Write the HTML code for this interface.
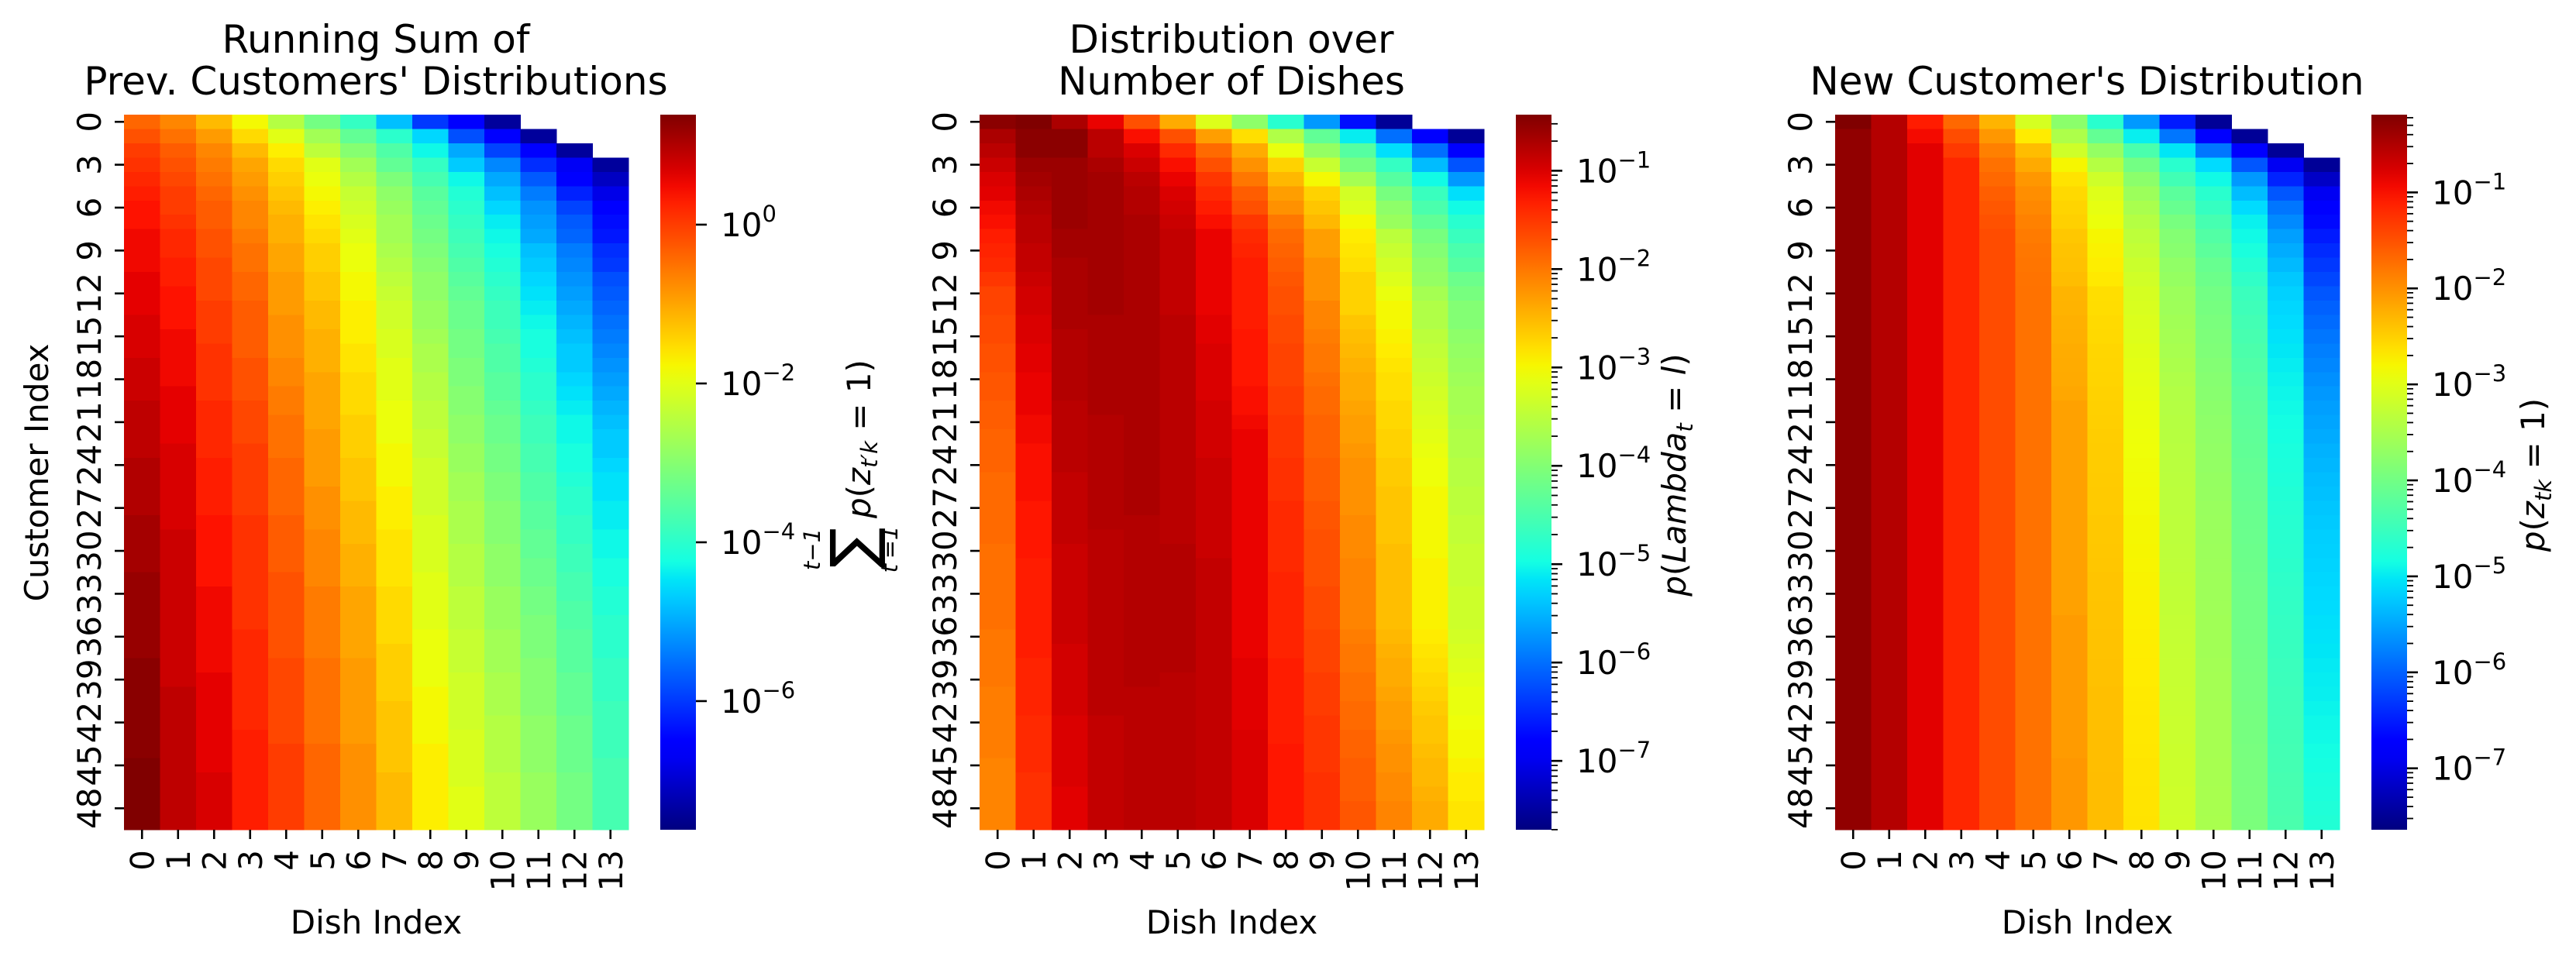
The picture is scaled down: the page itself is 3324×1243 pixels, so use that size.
<!DOCTYPE html>
<html><head><meta charset="utf-8"><style>
html,body{margin:0;padding:0;background:#fff}
svg{display:block;font-family:"DejaVu Sans","Liberation Sans",sans-serif}
</style></head><body>
<svg id="fig" width="3324" height="1243" viewBox="0 0 3324 1243" xmlns="http://www.w3.org/2000/svg">
<defs id="defs"></defs>
<g id="root"></g>
</svg>
<script>
const dishes=[0,1,2,3,4,5,6,7,8,9,10,11,12,13];
const customerTicks=[0,3,6,9,12,15,18,21,24,27,30,33,36,39,42,45,48];
const nCustomers=50;
const p1Log=[
[-0.4,-0.7,-1.2,-1.8,-2.5,-3.2,-3.9,-4.8,-6.0,-6.6,-7.4,null,null,null],
[-0.2,-0.5,-0.9,-1.5,-2.0,-2.7,-3.4,-4.0,-4.6,-5.8,-6.6,-7.4,null,null],
[0.0,-0.3,-0.7,-1.2,-1.7,-2.4,-3.0,-3.6,-4.3,-5.0,-5.9,-6.6,-7.4,null],
[0.1,-0.2,-0.6,-1.0,-1.5,-2.0,-2.7,-3.4,-3.9,-4.7,-5.3,-6.1,-6.7,-7.4],
[0.2,-0.1,-0.5,-0.9,-1.4,-1.9,-2.5,-3.1,-3.7,-4.3,-5.0,-5.7,-6.5,-7.1],
[0.3,0.0,-0.4,-0.8,-1.3,-1.8,-2.3,-2.9,-3.5,-4.1,-4.8,-5.4,-6.2,-6.8],
[0.4,0.0,-0.3,-0.7,-1.2,-1.7,-2.2,-2.8,-3.4,-4.0,-4.6,-5.2,-5.9,-6.6],
[0.4,0.1,-0.3,-0.7,-1.1,-1.6,-2.1,-2.7,-3.3,-3.9,-4.4,-5.1,-5.7,-6.4],
[0.5,0.2,-0.2,-0.6,-1.1,-1.5,-2.0,-2.7,-3.2,-3.8,-4.3,-5.0,-5.6,-6.3],
[0.5,0.2,-0.2,-0.5,-1.0,-1.4,-1.9,-2.6,-3.1,-3.7,-4.2,-4.8,-5.4,-6.1],
[0.5,0.3,-0.1,-0.5,-1.0,-1.4,-1.9,-2.5,-3.0,-3.6,-4.1,-4.7,-5.3,-6.0],
[0.6,0.3,-0.1,-0.4,-0.9,-1.3,-1.8,-2.4,-2.9,-3.5,-4.0,-4.6,-5.2,-5.8],
[0.6,0.4,-0.1,-0.4,-0.9,-1.3,-1.8,-2.3,-2.9,-3.4,-3.9,-4.5,-5.1,-5.7],
[0.6,0.4,0.0,-0.3,-0.9,-1.2,-1.7,-2.2,-2.8,-3.3,-3.8,-4.4,-5.0,-5.6],
[0.7,0.4,0.0,-0.3,-0.8,-1.2,-1.7,-2.2,-2.8,-3.3,-3.8,-4.3,-4.9,-5.5],
[0.7,0.5,0.0,-0.3,-0.8,-1.1,-1.7,-2.1,-2.7,-3.2,-3.7,-4.2,-4.8,-5.4],
[0.7,0.5,0.1,-0.3,-0.8,-1.1,-1.6,-2.1,-2.6,-3.2,-3.6,-4.2,-4.7,-5.3],
[0.8,0.5,0.1,-0.2,-0.7,-1.1,-1.6,-2.0,-2.6,-3.1,-3.6,-4.1,-4.7,-5.2],
[0.8,0.5,0.1,-0.2,-0.7,-1.0,-1.5,-2.0,-2.5,-3.1,-3.5,-4.0,-4.6,-5.1],
[0.8,0.6,0.1,-0.2,-0.6,-1.0,-1.5,-2.0,-2.5,-3.0,-3.5,-4.0,-4.5,-5.0],
[0.9,0.6,0.2,-0.1,-0.6,-1.0,-1.5,-1.9,-2.4,-3.0,-3.4,-3.9,-4.4,-4.9],
[0.9,0.6,0.2,-0.1,-0.5,-1.0,-1.4,-1.9,-2.4,-2.9,-3.3,-3.8,-4.3,-4.8],
[0.9,0.6,0.2,-0.1,-0.5,-0.9,-1.4,-1.9,-2.3,-2.9,-3.3,-3.8,-4.3,-4.7],
[0.9,0.7,0.2,0.0,-0.5,-0.9,-1.4,-1.8,-2.3,-2.8,-3.2,-3.7,-4.2,-4.7],
[1.0,0.7,0.3,0.0,-0.4,-0.9,-1.3,-1.8,-2.2,-2.8,-3.2,-3.7,-4.2,-4.6],
[1.0,0.7,0.3,0.0,-0.4,-0.9,-1.3,-1.8,-2.2,-2.7,-3.1,-3.6,-4.1,-4.5],
[1.0,0.7,0.3,0.0,-0.4,-0.8,-1.3,-1.7,-2.2,-2.7,-3.1,-3.6,-4.0,-4.5],
[1.0,0.7,0.3,0.0,-0.4,-0.8,-1.2,-1.7,-2.2,-2.6,-3.0,-3.5,-4.0,-4.4],
[1.1,0.7,0.4,0.1,-0.3,-0.8,-1.2,-1.7,-2.1,-2.6,-3.0,-3.5,-3.9,-4.4],
[1.1,0.8,0.4,0.1,-0.3,-0.7,-1.2,-1.6,-2.1,-2.6,-3.0,-3.4,-3.9,-4.3],
[1.1,0.8,0.4,0.1,-0.3,-0.7,-1.1,-1.6,-2.1,-2.5,-2.9,-3.4,-3.8,-4.3],
[1.1,0.8,0.4,0.1,-0.3,-0.7,-1.1,-1.6,-2.1,-2.5,-2.9,-3.3,-3.8,-4.2],
[1.2,0.8,0.4,0.1,-0.2,-0.7,-1.1,-1.6,-2.0,-2.5,-2.9,-3.3,-3.7,-4.2],
[1.2,0.8,0.5,0.1,-0.2,-0.6,-1.0,-1.5,-2.0,-2.4,-2.8,-3.2,-3.7,-4.1],
[1.2,0.8,0.5,0.1,-0.2,-0.6,-1.0,-1.5,-2.0,-2.4,-2.8,-3.2,-3.6,-4.1],
[1.2,0.8,0.5,0.1,-0.2,-0.6,-1.0,-1.5,-2.0,-2.4,-2.8,-3.1,-3.6,-4.0],
[1.2,0.8,0.5,0.2,-0.2,-0.6,-1.0,-1.5,-1.9,-2.3,-2.7,-3.1,-3.5,-4.0],
[1.2,0.8,0.5,0.2,-0.2,-0.6,-1.0,-1.4,-1.9,-2.3,-2.7,-3.1,-3.5,-4.0],
[1.3,0.8,0.5,0.2,-0.1,-0.5,-0.9,-1.4,-1.9,-2.3,-2.7,-3.0,-3.5,-3.9],
[1.3,0.8,0.6,0.2,-0.1,-0.5,-0.9,-1.4,-1.9,-2.2,-2.6,-3.0,-3.4,-3.9],
[1.3,0.9,0.6,0.2,-0.1,-0.5,-0.9,-1.4,-1.8,-2.2,-2.6,-3.0,-3.4,-3.9],
[1.3,0.9,0.6,0.2,-0.1,-0.5,-0.9,-1.3,-1.8,-2.2,-2.6,-3.0,-3.4,-3.8],
[1.3,0.9,0.6,0.2,-0.1,-0.5,-0.9,-1.3,-1.8,-2.2,-2.5,-2.9,-3.3,-3.8],
[1.3,0.9,0.6,0.3,-0.1,-0.5,-0.9,-1.3,-1.8,-2.1,-2.5,-2.9,-3.3,-3.8],
[1.3,0.9,0.6,0.3,0.0,-0.4,-0.8,-1.3,-1.7,-2.1,-2.5,-2.9,-3.3,-3.8],
[1.4,0.9,0.6,0.3,0.0,-0.4,-0.8,-1.3,-1.7,-2.1,-2.5,-2.9,-3.3,-3.7],
[1.4,0.9,0.7,0.3,0.0,-0.4,-0.8,-1.2,-1.7,-2.1,-2.4,-2.8,-3.2,-3.7],
[1.4,0.9,0.7,0.3,0.0,-0.4,-0.8,-1.2,-1.7,-2.0,-2.4,-2.8,-3.2,-3.7],
[1.4,0.9,0.7,0.3,0.0,-0.4,-0.8,-1.2,-1.7,-2.0,-2.4,-2.8,-3.2,-3.7],
[1.4,0.9,0.7,0.3,0.0,-0.4,-0.8,-1.2,-1.7,-2.0,-2.4,-2.8,-3.2,-3.7]
];
const p2Log=[
[-0.5,-0.43,-0.7,-1.1,-1.7,-2.4,-3.2,-3.9,-4.8,-5.7,-6.7,-7.55,null,null],
[-0.7,-0.5,-0.5,-0.8,-1.2,-1.7,-2.3,-2.8,-3.6,-4.3,-5.1,-6.0,-6.9,-7.55],
[-0.8,-0.5,-0.5,-0.8,-1.0,-1.4,-1.9,-2.4,-3.1,-3.85,-4.4,-5.2,-6.0,-6.9],
[-0.9,-0.6,-0.6,-0.7,-0.9,-1.2,-1.7,-2.2,-2.7,-3.4,-4.1,-4.7,-5.45,-6.2],
[-1.0,-0.65,-0.6,-0.65,-0.8,-1.1,-1.5,-2.0,-2.5,-3.0,-3.7,-4.4,-5.0,-5.7],
[-1.05,-0.7,-0.6,-0.65,-0.75,-1.0,-1.4,-1.8,-2.3,-2.7,-3.3,-4.1,-4.65,-5.2],
[-1.15,-0.75,-0.6,-0.65,-0.75,-0.95,-1.3,-1.7,-2.2,-2.6,-3.2,-3.9,-4.5,-5.0],
[-1.2,-0.8,-0.6,-0.65,-0.7,-0.9,-1.2,-1.5,-2.0,-2.5,-3.0,-3.8,-4.3,-4.8],
[-1.3,-0.8,-0.65,-0.65,-0.7,-0.85,-1.1,-1.4,-1.9,-2.3,-2.9,-3.5,-4.1,-4.65],
[-1.35,-0.85,-0.65,-0.65,-0.7,-0.85,-1.1,-1.35,-1.85,-2.3,-2.85,-3.4,-4.0,-4.5],
[-1.4,-0.85,-0.7,-0.65,-0.7,-0.85,-1.1,-1.3,-1.8,-2.2,-2.8,-3.3,-3.9,-4.4],
[-1.5,-0.9,-0.7,-0.65,-0.7,-0.85,-1.1,-1.3,-1.75,-2.2,-2.7,-3.2,-3.85,-4.2],
[-1.6,-0.95,-0.7,-0.65,-0.7,-0.85,-1.1,-1.3,-1.7,-2.2,-2.7,-3.1,-3.7,-4.1],
[-1.6,-0.95,-0.7,-0.65,-0.7,-0.85,-1.1,-1.3,-1.7,-2.1,-2.7,-3.0,-3.6,-4.0],
[-1.65,-1.0,-0.7,-0.7,-0.7,-0.8,-1.05,-1.3,-1.65,-2.1,-2.6,-3.0,-3.6,-4.0],
[-1.65,-1.0,-0.75,-0.7,-0.7,-0.8,-1.05,-1.25,-1.65,-2.05,-2.55,-2.95,-3.5,-3.9],
[-1.7,-1.05,-0.75,-0.7,-0.7,-0.8,-1.0,-1.25,-1.6,-2.0,-2.5,-2.9,-3.45,-3.85],
[-1.7,-1.05,-0.75,-0.7,-0.7,-0.8,-1.0,-1.25,-1.6,-2.0,-2.45,-2.85,-3.4,-3.8],
[-1.75,-1.1,-0.75,-0.7,-0.7,-0.8,-1.0,-1.25,-1.6,-1.95,-2.4,-2.8,-3.35,-3.75],
[-1.75,-1.1,-0.75,-0.7,-0.7,-0.8,-1.0,-1.2,-1.55,-1.9,-2.4,-2.8,-3.3,-3.7],
[-1.8,-1.1,-0.8,-0.7,-0.7,-0.8,-0.95,-1.2,-1.55,-1.9,-2.35,-2.75,-3.25,-3.7],
[-1.8,-1.15,-0.8,-0.75,-0.7,-0.8,-0.95,-1.15,-1.5,-1.85,-2.3,-2.75,-3.2,-3.65],
[-1.85,-1.15,-0.8,-0.75,-0.7,-0.8,-0.95,-1.1,-1.5,-1.85,-2.3,-2.7,-3.15,-3.6],
[-1.85,-1.2,-0.8,-0.75,-0.7,-0.8,-0.95,-1.1,-1.5,-1.85,-2.25,-2.7,-3.1,-3.6],
[-1.85,-1.2,-0.8,-0.75,-0.7,-0.8,-0.9,-1.1,-1.45,-1.8,-2.2,-2.65,-3.05,-3.55],
[-1.9,-1.2,-0.85,-0.75,-0.7,-0.8,-0.9,-1.1,-1.45,-1.8,-2.2,-2.65,-3.05,-3.55],
[-1.9,-1.2,-0.85,-0.75,-0.7,-0.8,-0.9,-1.1,-1.45,-1.8,-2.2,-2.6,-3.0,-3.5],
[-1.9,-1.25,-0.85,-0.75,-0.7,-0.8,-0.9,-1.1,-1.4,-1.75,-2.2,-2.6,-3.0,-3.5],
[-1.9,-1.25,-0.85,-0.75,-0.75,-0.8,-0.9,-1.1,-1.4,-1.75,-2.15,-2.6,-3.0,-3.45],
[-1.9,-1.25,-0.85,-0.8,-0.75,-0.8,-0.9,-1.1,-1.4,-1.7,-2.15,-2.6,-3.0,-3.45],
[-1.95,-1.25,-0.9,-0.8,-0.75,-0.75,-0.9,-1.1,-1.4,-1.7,-2.15,-2.55,-3.0,-3.4],
[-1.95,-1.3,-0.9,-0.8,-0.75,-0.75,-0.85,-1.1,-1.4,-1.7,-2.1,-2.55,-2.95,-3.4],
[-1.95,-1.3,-0.9,-0.8,-0.75,-0.75,-0.85,-1.1,-1.35,-1.7,-2.1,-2.55,-2.95,-3.4],
[-1.95,-1.3,-0.9,-0.8,-0.75,-0.75,-0.85,-1.1,-1.35,-1.65,-2.1,-2.55,-2.95,-3.35],
[-1.95,-1.3,-0.9,-0.8,-0.75,-0.75,-0.85,-1.1,-1.35,-1.65,-2.1,-2.55,-2.95,-3.35],
[-1.95,-1.3,-0.9,-0.8,-0.75,-0.75,-0.85,-1.1,-1.35,-1.65,-2.1,-2.55,-2.95,-3.35],
[-2.0,-1.3,-0.9,-0.8,-0.75,-0.75,-0.85,-1.1,-1.35,-1.6,-2.05,-2.5,-2.9,-3.3],
[-2.0,-1.3,-0.95,-0.8,-0.75,-0.75,-0.85,-1.1,-1.35,-1.6,-2.0,-2.45,-2.85,-3.25],
[-2.0,-1.35,-0.95,-0.8,-0.75,-0.75,-0.85,-1.05,-1.3,-1.6,-2.0,-2.4,-2.8,-3.2],
[-2.0,-1.35,-0.95,-0.8,-0.75,-0.8,-0.85,-1.05,-1.3,-1.55,-1.95,-2.4,-2.75,-3.15],
[-2.05,-1.35,-0.95,-0.8,-0.8,-0.8,-0.85,-1.05,-1.3,-1.55,-1.95,-2.35,-2.7,-3.1],
[-2.05,-1.35,-0.95,-0.8,-0.8,-0.8,-0.85,-1.05,-1.3,-1.55,-1.9,-2.3,-2.65,-3.1],
[-2.05,-1.4,-1.0,-0.85,-0.8,-0.8,-0.85,-1.05,-1.3,-1.5,-1.9,-2.3,-2.6,-3.05],
[-2.05,-1.4,-1.0,-0.85,-0.8,-0.8,-0.85,-1.0,-1.3,-1.5,-1.85,-2.25,-2.6,-3.0],
[-2.05,-1.4,-1.0,-0.85,-0.8,-0.8,-0.85,-1.0,-1.25,-1.5,-1.85,-2.2,-2.55,-3.0],
[-2.1,-1.4,-1.0,-0.85,-0.8,-0.8,-0.85,-1.0,-1.25,-1.5,-1.8,-2.2,-2.5,-2.95],
[-2.1,-1.45,-1.0,-0.85,-0.8,-0.8,-0.85,-1.0,-1.25,-1.45,-1.8,-2.15,-2.5,-2.9],
[-2.1,-1.45,-1.05,-0.85,-0.8,-0.8,-0.85,-1.0,-1.25,-1.45,-1.8,-2.15,-2.45,-2.9],
[-2.1,-1.45,-1.05,-0.85,-0.8,-0.8,-0.85,-1.0,-1.25,-1.45,-1.75,-2.1,-2.4,-2.85],
[-2.1,-1.45,-1.05,-0.85,-0.8,-0.8,-0.85,-1.0,-1.25,-1.45,-1.75,-2.1,-2.4,-2.85]
];
const p3Log=[
[-0.19,-0.53,-1.08,-1.68,-2.28,-3.1,-3.77,-4.66,-5.59,-6.52,-7.49,null,null,null],
[-0.3,-0.53,-0.94,-1.46,-2.05,-2.72,-3.47,-4.14,-4.96,-5.85,-6.82,-7.49,null,null],
[-0.3,-0.53,-0.82,-1.31,-1.87,-2.35,-3.17,-3.69,-4.36,-5.03,-5.85,-6.82,-7.49,null],
[-0.3,-0.53,-0.82,-1.16,-1.75,-2.2,-2.8,-3.4,-3.99,-4.66,-5.11,-6.08,-6.9,-7.49],
[-0.3,-0.53,-0.82,-1.16,-1.68,-2.05,-2.65,-3.17,-3.77,-4.44,-4.88,-5.59,-6.45,-7.19],
[-0.3,-0.53,-0.82,-1.16,-1.6,-1.98,-2.57,-3.02,-3.62,-4.21,-4.66,-5.33,-6.08,-6.9],
[-0.3,-0.53,-0.82,-1.16,-1.55,-1.93,-2.53,-2.95,-3.5,-4.1,-4.55,-5.1,-5.85,-6.82],
[-0.3,-0.53,-0.82,-1.16,-1.5,-1.88,-2.5,-2.9,-3.4,-3.95,-4.4,-4.95,-5.7,-6.65],
[-0.3,-0.53,-0.82,-1.16,-1.46,-1.83,-2.43,-2.8,-3.32,-3.84,-4.29,-4.88,-5.55,-6.52],
[-0.3,-0.53,-0.82,-1.16,-1.46,-1.8,-2.4,-2.77,-3.27,-3.8,-4.2,-4.8,-5.45,-6.4],
[-0.3,-0.53,-0.82,-1.16,-1.46,-1.78,-2.38,-2.74,-3.2,-3.72,-4.1,-4.7,-5.35,-6.3],
[-0.3,-0.53,-0.82,-1.16,-1.46,-1.77,-2.35,-2.7,-3.15,-3.68,-4.05,-4.6,-5.25,-6.2],
[-0.3,-0.53,-0.82,-1.16,-1.46,-1.76,-2.28,-2.61,-3.1,-3.62,-3.99,-4.51,-5.18,-6.08],
[-0.3,-0.53,-0.82,-1.16,-1.46,-1.76,-2.27,-2.6,-3.08,-3.6,-3.96,-4.47,-5.14,-6.0],
[-0.3,-0.53,-0.82,-1.16,-1.46,-1.76,-2.25,-2.58,-3.05,-3.57,-3.93,-4.43,-5.1,-5.93],
[-0.3,-0.53,-0.82,-1.16,-1.46,-1.76,-2.24,-2.57,-3.03,-3.54,-3.9,-4.39,-5.06,-5.85],
[-0.3,-0.53,-0.82,-1.16,-1.46,-1.76,-2.22,-2.55,-3.0,-3.51,-3.88,-4.35,-5.02,-5.78],
[-0.3,-0.53,-0.82,-1.16,-1.46,-1.76,-2.21,-2.54,-2.98,-3.48,-3.85,-4.31,-4.98,-5.72],
[-0.3,-0.53,-0.82,-1.16,-1.46,-1.76,-2.2,-2.53,-2.96,-3.45,-3.82,-4.27,-4.94,-5.66],
[-0.3,-0.53,-0.82,-1.16,-1.46,-1.76,-2.18,-2.52,-2.94,-3.42,-3.8,-4.24,-4.91,-5.6],
[-0.3,-0.53,-0.82,-1.16,-1.46,-1.76,-2.13,-2.5,-2.91,-3.4,-3.77,-4.21,-4.88,-5.55],
[-0.3,-0.53,-0.82,-1.16,-1.46,-1.76,-2.13,-2.49,-2.9,-3.39,-3.75,-4.19,-4.85,-5.5],
[-0.3,-0.53,-0.82,-1.16,-1.46,-1.76,-2.13,-2.48,-2.88,-3.38,-3.73,-4.17,-4.83,-5.46],
[-0.3,-0.53,-0.82,-1.16,-1.46,-1.76,-2.13,-2.47,-2.87,-3.37,-3.71,-4.16,-4.8,-5.41],
[-0.3,-0.53,-0.82,-1.16,-1.46,-1.76,-2.13,-2.47,-2.86,-3.36,-3.7,-4.14,-4.78,-5.37],
[-0.3,-0.53,-0.82,-1.16,-1.46,-1.76,-2.13,-2.46,-2.85,-3.35,-3.68,-4.12,-4.76,-5.33],
[-0.3,-0.53,-0.82,-1.16,-1.46,-1.76,-2.13,-2.45,-2.84,-3.34,-3.67,-4.11,-4.73,-5.3],
[-0.3,-0.53,-0.82,-1.16,-1.46,-1.76,-2.13,-2.45,-2.83,-3.34,-3.65,-4.09,-4.71,-5.26],
[-0.3,-0.53,-0.82,-1.16,-1.46,-1.76,-2.13,-2.44,-2.82,-3.33,-3.64,-4.08,-4.69,-5.23],
[-0.3,-0.53,-0.82,-1.16,-1.46,-1.76,-2.13,-2.44,-2.81,-3.33,-3.63,-4.07,-4.67,-5.2],
[-0.3,-0.53,-0.82,-1.16,-1.46,-1.76,-2.13,-2.43,-2.8,-3.32,-3.62,-4.06,-4.66,-5.18],
[-0.3,-0.53,-0.82,-1.16,-1.46,-1.76,-2.13,-2.42,-2.79,-3.31,-3.61,-4.05,-4.64,-5.16],
[-0.3,-0.53,-0.82,-1.16,-1.46,-1.76,-2.13,-2.41,-2.78,-3.3,-3.6,-4.04,-4.62,-5.14],
[-0.3,-0.53,-0.82,-1.16,-1.46,-1.76,-2.13,-2.41,-2.77,-3.29,-3.6,-4.03,-4.6,-5.12],
[-0.3,-0.53,-0.82,-1.16,-1.46,-1.76,-2.13,-2.4,-2.76,-3.28,-3.59,-4.02,-4.58,-5.1],
[-0.3,-0.53,-0.82,-1.16,-1.46,-1.76,-2.08,-2.4,-2.75,-3.27,-3.58,-4.02,-4.56,-5.07],
[-0.3,-0.53,-0.82,-1.16,-1.46,-1.76,-2.08,-2.39,-2.74,-3.26,-3.57,-4.01,-4.54,-5.05],
[-0.3,-0.53,-0.82,-1.16,-1.46,-1.76,-2.08,-2.39,-2.73,-3.25,-3.57,-4.0,-4.53,-5.03],
[-0.3,-0.53,-0.82,-1.16,-1.46,-1.76,-2.08,-2.38,-2.72,-3.24,-3.56,-3.99,-4.51,-5.0],
[-0.3,-0.53,-0.82,-1.16,-1.46,-1.76,-2.08,-2.38,-2.72,-3.24,-3.55,-3.98,-4.5,-4.98],
[-0.3,-0.53,-0.82,-1.16,-1.46,-1.76,-2.08,-2.37,-2.71,-3.23,-3.55,-3.98,-4.48,-4.96],
[-0.3,-0.53,-0.82,-1.16,-1.46,-1.76,-2.08,-2.37,-2.7,-3.22,-3.54,-3.97,-4.47,-4.93],
[-0.3,-0.53,-0.82,-1.16,-1.46,-1.76,-2.08,-2.37,-2.69,-3.21,-3.54,-3.96,-4.46,-4.9],
[-0.3,-0.53,-0.82,-1.16,-1.46,-1.76,-2.08,-2.36,-2.69,-3.21,-3.53,-3.96,-4.44,-4.88],
[-0.3,-0.53,-0.82,-1.16,-1.46,-1.76,-2.08,-2.36,-2.68,-3.2,-3.53,-3.95,-4.43,-4.85],
[-0.3,-0.53,-0.82,-1.16,-1.46,-1.76,-2.05,-2.36,-2.67,-3.19,-3.52,-3.94,-4.42,-4.83],
[-0.3,-0.53,-0.82,-1.16,-1.46,-1.76,-2.05,-2.35,-2.67,-3.19,-3.52,-3.94,-4.4,-4.8],
[-0.3,-0.53,-0.82,-1.16,-1.46,-1.76,-2.05,-2.35,-2.66,-3.18,-3.51,-3.93,-4.39,-4.78],
[-0.3,-0.53,-0.82,-1.16,-1.46,-1.76,-2.05,-2.35,-2.66,-3.18,-3.51,-3.93,-4.38,-4.75],
[-0.3,-0.53,-0.82,-1.16,-1.46,-1.76,-2.05,-2.35,-2.65,-3.17,-3.5,-3.92,-4.36,-4.73]
];
const cb1Ticks=[0,-2,-4,-6];
const cb2Ticks=[-1,-2,-3,-4,-5,-6,-7];
const cb3Ticks=[-1,-2,-3,-4,-5,-6,-7];
const cb1Range=[-7.62,1.385];
const cb2Range=[-7.70,-0.43];
const cb3Range=[-7.64,-0.19];

const NS='http://www.w3.org/2000/svg';
const rootG=document.getElementById('root');
const defsEl=document.getElementById('defs');
function mk(tag,attrs,parent){const e=document.createElementNS(NS,tag);for(const k in attrs)e.setAttribute(k,attrs[k]);(parent||rootG).appendChild(e);return e;}
function interp(pts,t){for(let i=1;i<pts.length;i++){if(t<=pts[i][0]){const a=pts[i-1],b=pts[i];return a[1]+(b[1]-a[1])*(t-a[0])/(b[0]-a[0]);}}return pts[pts.length-1][1];}
const JR=[[0,0],[0.35,0],[0.66,1],[0.89,1],[1,0.5]];
const JG=[[0,0],[0.125,0],[0.375,1],[0.64,1],[0.91,0],[1,0]];
const JB=[[0,0.5],[0.11,1],[0.34,1],[0.65,0],[1,0]];
function jet(t){t=Math.max(0,Math.min(1,t));const c=x=>Math.round(255*x);return 'rgb('+c(interp(JR,t))+','+c(interp(JG,t))+','+c(interp(JB,t))+')';}

const plotTop=148,plotBottom=1071;
const panels=[
 {key:'running-sum',data:p1Log,range:cb1Range,ticks:cb1Ticks,minor:false,hx:160,hw:651,cbx:852,cbw:46,ylabelX:130},
 {key:'dish-count',data:p2Log,range:cb2Range,ticks:cb2Ticks,minor:true,hx:1264,hw:651,cbx:1956,cbw:46,ylabelX:1234},
 {key:'new-customer',data:p3Log,range:cb3Range,ticks:cb3Ticks,minor:true,hx:2368,hw:651,cbx:3060,cbw:46,ylabelX:2338}
];
const rowH=(plotBottom-plotTop)/nCustomers;

panels.forEach((p,pi)=>{
  const g=mk('g',{});
  
  
  const colW=p.hw/dishes.length;
  const xS=c=>p.hx+c*colW;
  const yS=r=>plotTop+r*rowH;
  const cS=v=>(v-p.range[0])/(p.range[1]-p.range[0]);
  const hm=mk('g',{'shape-rendering':'crispEdges'},g);
  
  
  p.data.forEach((row,r)=>{row.forEach((v,c)=>{
    if(v===null)return;
    const rc=mk('rect',{x:xS(c).toFixed(2),y:yS(r).toFixed(2),width:(colW+0.6).toFixed(2),height:(rowH+0.6).toFixed(2),fill:jet(cS(v))},hm);
    
    
  });});
  customerTicks.forEach(t=>{
    const y=yS(t)+rowH/2;
    mk('line',{x1:p.hx-12,x2:p.hx,y1:y,y2:y,stroke:'#000','stroke-width':2.6},g);
    const tx=mk('text',{x:0,y:0,transform:'translate('+p.ylabelX+','+y+') rotate(-90)','text-anchor':'middle','font-size':42},g);
    
    
    tx.textContent=t;
  });
  dishes.forEach(d=>{
    const x=xS(d)+colW/2;
    mk('line',{x1:x,x2:x,y1:plotBottom,y2:plotBottom+12,stroke:'#000','stroke-width':2.6},g);
    const tx=mk('text',{x:0,y:0,transform:'translate('+(x+15)+','+(plotBottom+26)+') rotate(-90)','text-anchor':'end','font-size':42},g);
    
    
    tx.textContent=d;
  });
  const xl=mk('text',{x:p.hx+p.hw/2,y:1205,'text-anchor':'middle','font-size':42},g);
  
  
  xl.textContent='Dish Index';
  const gid='grad'+pi;
  const lg=mk('linearGradient',{id:gid,x1:0,y1:1,x2:0,y2:0},defsEl);
  for(let i=0;i<=40;i++){mk('stop',{offset:(i/40),'stop-color':jet(i/40)},lg);}
  const cb=mk('rect',{x:p.cbx,y:plotTop,width:p.cbw,height:plotBottom-plotTop,fill:'url(#'+gid+')'},g);
  
  
  const cbY=v=>plotBottom-(v-p.range[0])/(p.range[1]-p.range[0])*(plotBottom-plotTop);
  const cr=p.cbx+p.cbw;
  if(p.minor){
    for(let d=Math.floor(p.range[0]);d<=Math.ceil(p.range[1]);d++){
      for(let k=2;k<=9;k++){const v=d+Math.log10(k);if(v<p.range[0]||v>p.range[1])continue;const y=cbY(v);
        mk('line',{x1:cr,x2:cr+8,y1:y,y2:y,stroke:'#000','stroke-width':1.8},g);}
    }
  }
  p.ticks.forEach(t=>{
    const y=cbY(t);
    mk('line',{x1:cr,x2:cr+14,y1:y,y2:y,stroke:'#000','stroke-width':2.6},g);
    const tx=mk('text',{x:cr+32,y:y+15,'font-size':42},g);
    
    
    const a=mk('tspan',{},tx);a.textContent='10';
    const b=mk('tspan',{'font-size':29,dy:-19},tx);b.textContent=(t===0?'0':'\u2212'+(-t));
  });
});

function title(lines,cx,ys,name){
  lines.forEach((s,i)=>{const t=mk('text',{x:cx,y:ys[i],'text-anchor':'middle','font-size':50});
    
    
    t.textContent=s;});
}
title(['Running Sum of',"Prev. Customers' Distributions"],485,[68,122],'title-running-sum');
title(['Distribution over','Number of Dishes'],1589,[68,122],'title-dish-count');
title(["New Customer's Distribution"],2693,[122],'title-new-customer');

const yt=mk('text',{x:0,y:0,transform:'translate(62,610) rotate(-90)','text-anchor':'middle','font-size':42});


yt.textContent='Customer Index';

let sp;
const l1=mk('g',{transform:'translate(1098,611) rotate(-90)'});


mk('text',{x:-96,y:29,'text-anchor':'middle','font-size':78},l1).textContent='\u2211';
mk('text',{x:-98,y:-40,'text-anchor':'middle','font-size':29,'font-style':'italic'},l1).textContent='t\u22121';
mk('text',{x:-98,y:60,'text-anchor':'middle','font-size':29,'font-style':'italic'},l1).textContent='t\u2032=1';
const m1=mk('text',{x:-58,y:25,'font-size':42},l1);
sp=mk('tspan',{'font-style':'italic'},m1);sp.textContent='p';
sp=mk('tspan',{},m1);sp.textContent='(';
sp=mk('tspan',{'font-style':'italic'},m1);sp.textContent='z';
sp=mk('tspan',{'font-style':'italic','font-size':29,dy:9},m1);sp.textContent='t\u2032k';
sp=mk('tspan',{dy:-9},m1);sp.textContent=' = 1)';

const l2=mk('text',{x:0,y:0,transform:'translate(2175,613) rotate(-90)','text-anchor':'middle','font-size':42});


sp=mk('tspan',{'font-style':'italic'},l2);sp.textContent='p';
sp=mk('tspan',{},l2);sp.textContent='(';
sp=mk('tspan',{'font-style':'italic'},l2);sp.textContent='Lambda';
sp=mk('tspan',{'font-style':'italic','font-size':29,dy:9},l2);sp.textContent='t';
sp=mk('tspan',{dy:-9},l2);sp.textContent=' = ';
sp=mk('tspan',{'font-style':'italic'},l2);sp.textContent='l';
sp=mk('tspan',{},l2);sp.textContent=')';

const l3=mk('text',{x:0,y:0,transform:'translate(3283,613) rotate(-90)','text-anchor':'middle','font-size':42});


sp=mk('tspan',{'font-style':'italic'},l3);sp.textContent='p';
sp=mk('tspan',{},l3);sp.textContent='(';
sp=mk('tspan',{'font-style':'italic'},l3);sp.textContent='z';
sp=mk('tspan',{'font-style':'italic','font-size':29,dy:9},l3);sp.textContent='tk';
sp=mk('tspan',{dy:-9},l3);sp.textContent=' = 1)';
</script>
</body></html>
